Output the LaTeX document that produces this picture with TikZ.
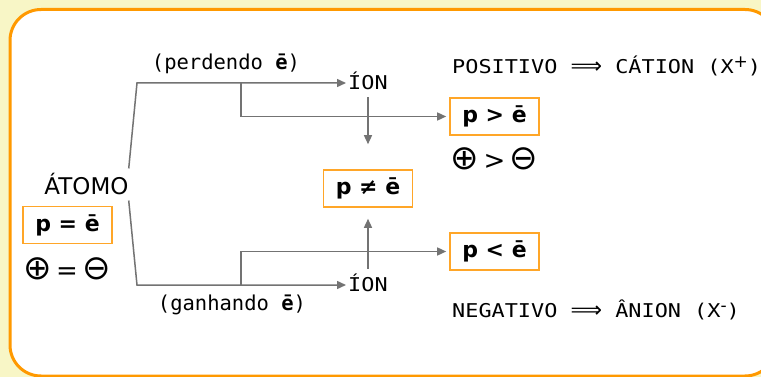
\documentclass[tikz,border=0pt]{standalone}
\usepackage{fontspec}
\usetikzlibrary{arrows.meta}
\setmainfont{DejaVu Sans}
\newfontfamily\monofont{DejaVu Sans Mono}
\newfontfamily\widefont[FakeStretch=1.15]{DejaVu Sans Mono}
\newfontfamily\symfont{DejaVu Sans}
\definecolor{framecol}{RGB}{255,153,0}
\definecolor{boxcol}{RGB}{255,166,40}
\definecolor{paleyellow}{RGB}{248,246,198}
\definecolor{arrowgray}{RGB}{115,115,115}
\newcommand{\implsym}{{\symfont\fontsize{22}{22}\selectfont ⟹}}
\newcommand{\chargesym}[1]{{\fontsize{34}{34}\selectfont #1}}
\newcommand{\supsym}[1]{\raisebox{6pt}{\symfont\fontsize{17}{17}\selectfont #1}}

\begin{document}
\begin{tikzpicture}[x=1pt, y=-1pt,
  relbox/.style={draw=boxcol, line width=1.6pt, minimum width=89pt, minimum height=37pt,
    inner sep=0pt, font=\fontsize{22}{22}\selectfont\bfseries},
  arr/.style={draw=arrowgray, line width=1.5pt, -{Triangle[length=9pt,width=8pt]}},
  lbl/.style={font=\monofont\fontsize{20.5}{20.5}\selectfont, inner sep=0pt},
  caps/.style={font=\widefont\fontsize{19}{19}\selectfont, inner sep=2pt},
  charge/.style={font=\fontsize{26}{26}\selectfont, inner sep=0pt}]

	% Background and frame
	\fill[paleyellow] (0,0) rectangle (761,377);
	\useasboundingbox (0,0) rectangle (761,377);
	\draw[framecol, line width=3pt, fill=white, rounded corners=31pt] (10,9.5) rectangle (776,376);

	% Neutral atom
	\node[font=\fontsize{23}{23}\selectfont, inner xsep=0pt, inner ysep=5pt] (atomo) at (86.5,184.5) {ÁTOMO};
	\node[relbox] (eqbox) at (67.5,225) {p = ē};
	\node[charge] (eqcharge) at (67,268.5) {\chargesym{⊕}\,=\,\chargesym{⊖}};

	% Branch labels
	\node[lbl] (perd) at (226,64) {(perdendo \textbf{ē})};
	\node[lbl] (ganh) at (232,305) {(ganhando \textbf{ē})};

	% Ions
	\node[caps, anchor=west] (ionup) at (346,81) {ÍON};
	\node[caps, anchor=west] (iondown) at (346,283) {ÍON};
	\node[relbox] (nebox) at (368,188.5) {p ≠ ē};

	% Results
	\node[relbox] (gtbox) at (494.5,116.5) {p > ē};
	\node[charge] (gtcharge) at (494.5,158.5) {\chargesym{⊕}\,>\,\chargesym{⊖}};
	\node[relbox] (ltbox) at (494.5,251.5) {p < ē};
	\node[caps, anchor=west] (cation) at (450,66) {POSITIVO \implsym{} CÁTION (X\supsym{+})};
	\node[caps, anchor=west] (anion) at (450,310) {NEGATIVO \implsym{} ÂNION (X\supsym{-})};

	% Connectors
	\coordinate (upbend) at (137,83);
	\coordinate (upsplit) at (241,83);
	\coordinate (downbend) at (137,285);
	\coordinate (downsplit) at (241,285);

	\draw[arr] (atomo.north east) -- (upbend) -- (upbend -| ionup.west);
	\draw[arr, shorten >=3pt] (upsplit) |- (gtbox.west);
	\draw[arr] (atomo.south east) -- (downbend) -- (downbend -| iondown.west);
	\draw[arr, shorten >=3pt] (downsplit) |- (ltbox.west);

	\draw[arr, shorten <=5pt, shorten >=25pt] (nebox.north |- ionup.south) -- (nebox.north);
	\draw[arr, shorten <=3pt, shorten >=11pt] (nebox.south |- iondown.north) -- (nebox.south);

\end{tikzpicture}
\end{document}
